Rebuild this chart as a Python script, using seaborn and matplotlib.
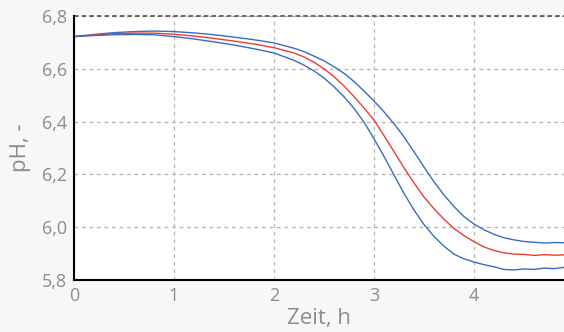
import numpy as np
import pandas as pd
import matplotlib
matplotlib.use('Agg')
import matplotlib.pyplot as plt
import seaborn as sns

# ── Data ─────────────────────────────────────────────────────
zeit = [0.0, 0.2, 0.4, 0.6, 0.8, 1.0, 1.2, 1.4, 1.6, 1.8, 2.0, 2.2, 2.3, 2.4,
        2.5, 2.6, 2.7, 2.8, 2.9, 3.0, 3.1, 3.2, 3.3, 3.4, 3.5, 3.6, 3.7, 3.8,
        3.9, 4.0, 4.1, 4.2, 4.3, 4.4, 4.5, 4.6, 4.7, 4.8, 4.9]

ph_mean = [6.722, 6.728, 6.733, 6.735, 6.735, 6.731, 6.724, 6.715, 6.705, 6.694,
           6.680, 6.660, 6.645, 6.625, 6.600, 6.570, 6.535, 6.495, 6.452, 6.406,
           6.347, 6.286, 6.225, 6.168, 6.114, 6.070, 6.030, 5.995, 5.968, 5.945,
           5.925, 5.912, 5.903, 5.898, 5.897, 5.893, 5.896, 5.894, 5.895]

ph_upper = [6.722, 6.730, 6.737, 6.741, 6.743, 6.741, 6.736, 6.729, 6.720, 6.710,
            6.698, 6.678, 6.665, 6.648, 6.630, 6.608, 6.583, 6.552, 6.516, 6.478,
            6.437, 6.392, 6.342, 6.286, 6.228, 6.172, 6.122, 6.078, 6.040, 6.012,
            5.990, 5.973, 5.960, 5.952, 5.946, 5.943, 5.940, 5.942, 5.941]

ph_lower = [6.722, 6.726, 6.729, 6.730, 6.729, 6.722, 6.713, 6.702, 6.690, 6.676,
            6.660, 6.632, 6.614, 6.592, 6.565, 6.532, 6.494, 6.450, 6.398, 6.335,
            6.268, 6.198, 6.128, 6.065, 6.010, 5.965, 5.928, 5.898, 5.880, 5.868,
            5.858, 5.850, 5.840, 5.838, 5.842, 5.840, 5.845, 5.843, 5.848]

x_ticks = [0, 1, 2, 3, 4]
y_ticks = [5.8, 6.0, 6.2, 6.4, 6.6, 6.8]
y_labels = ["5,8", "6,0", "6,2", "6,4", "6,6", "6,8"]

df = pd.DataFrame({
    "Zeit": zeit * 3,
    "pH": ph_upper + ph_mean + ph_lower,
    "Kurve": ["oben"] * len(zeit) + ["mittel"] * len(zeit) + ["unten"] * len(zeit),
})

sns.set_theme(style="white")
plt.rcParams['font.family'] = ['Open Sans', 'DejaVu Sans']

fig = plt.figure(figsize=(5.64, 3.32), dpi=100, facecolor="#f7f7f7")
ax = fig.add_axes([74 / 564, 52 / 332, 490 / 564, 264 / 332])
ax.set_facecolor("white")

sns.lineplot(data=df, x="Zeit", y="pH", hue="Kurve",
             palette={"oben": "#3a6cc0", "mittel": "#ee3b33", "unten": "#3a6cc0"},
             linewidth=1.0, legend=False, ax=ax, sort=False)

ax.set_xlim(0, 4.9)
ax.set_ylim(5.8, 6.8)
ax.set_xticks(x_ticks)
ax.set_xticklabels([str(t) for t in x_ticks])
ax.set_yticks(y_ticks)
ax.set_yticklabels(y_labels)

ax.grid(True, color="#b4b4b4", linestyle=(0, (3, 3)), linewidth=0.9)
ax.axhline(6.8, color="#444444", linestyle=(0, (3, 2)), linewidth=1.1, clip_on=False)

for side in ["top", "right"]:
    ax.spines[side].set_visible(False)
for side in ["left", "bottom"]:
    ax.spines[side].set_color("black")
    ax.spines[side].set_linewidth(1.5)

ax.tick_params(axis="both", colors="#999999", labelsize=13, length=4,
               width=1, direction="out", pad=1)
ax.tick_params(axis="both", labelcolor="#8c8c8c")

ax.set_xlabel("Zeit, h", fontsize=16, color="#8c8c8c", labelpad=2)
ax.set_ylabel("pH, -", fontsize=16, color="#8c8c8c", labelpad=8)

fig.savefig("out.png", dpi=100, facecolor=fig.get_facecolor())
